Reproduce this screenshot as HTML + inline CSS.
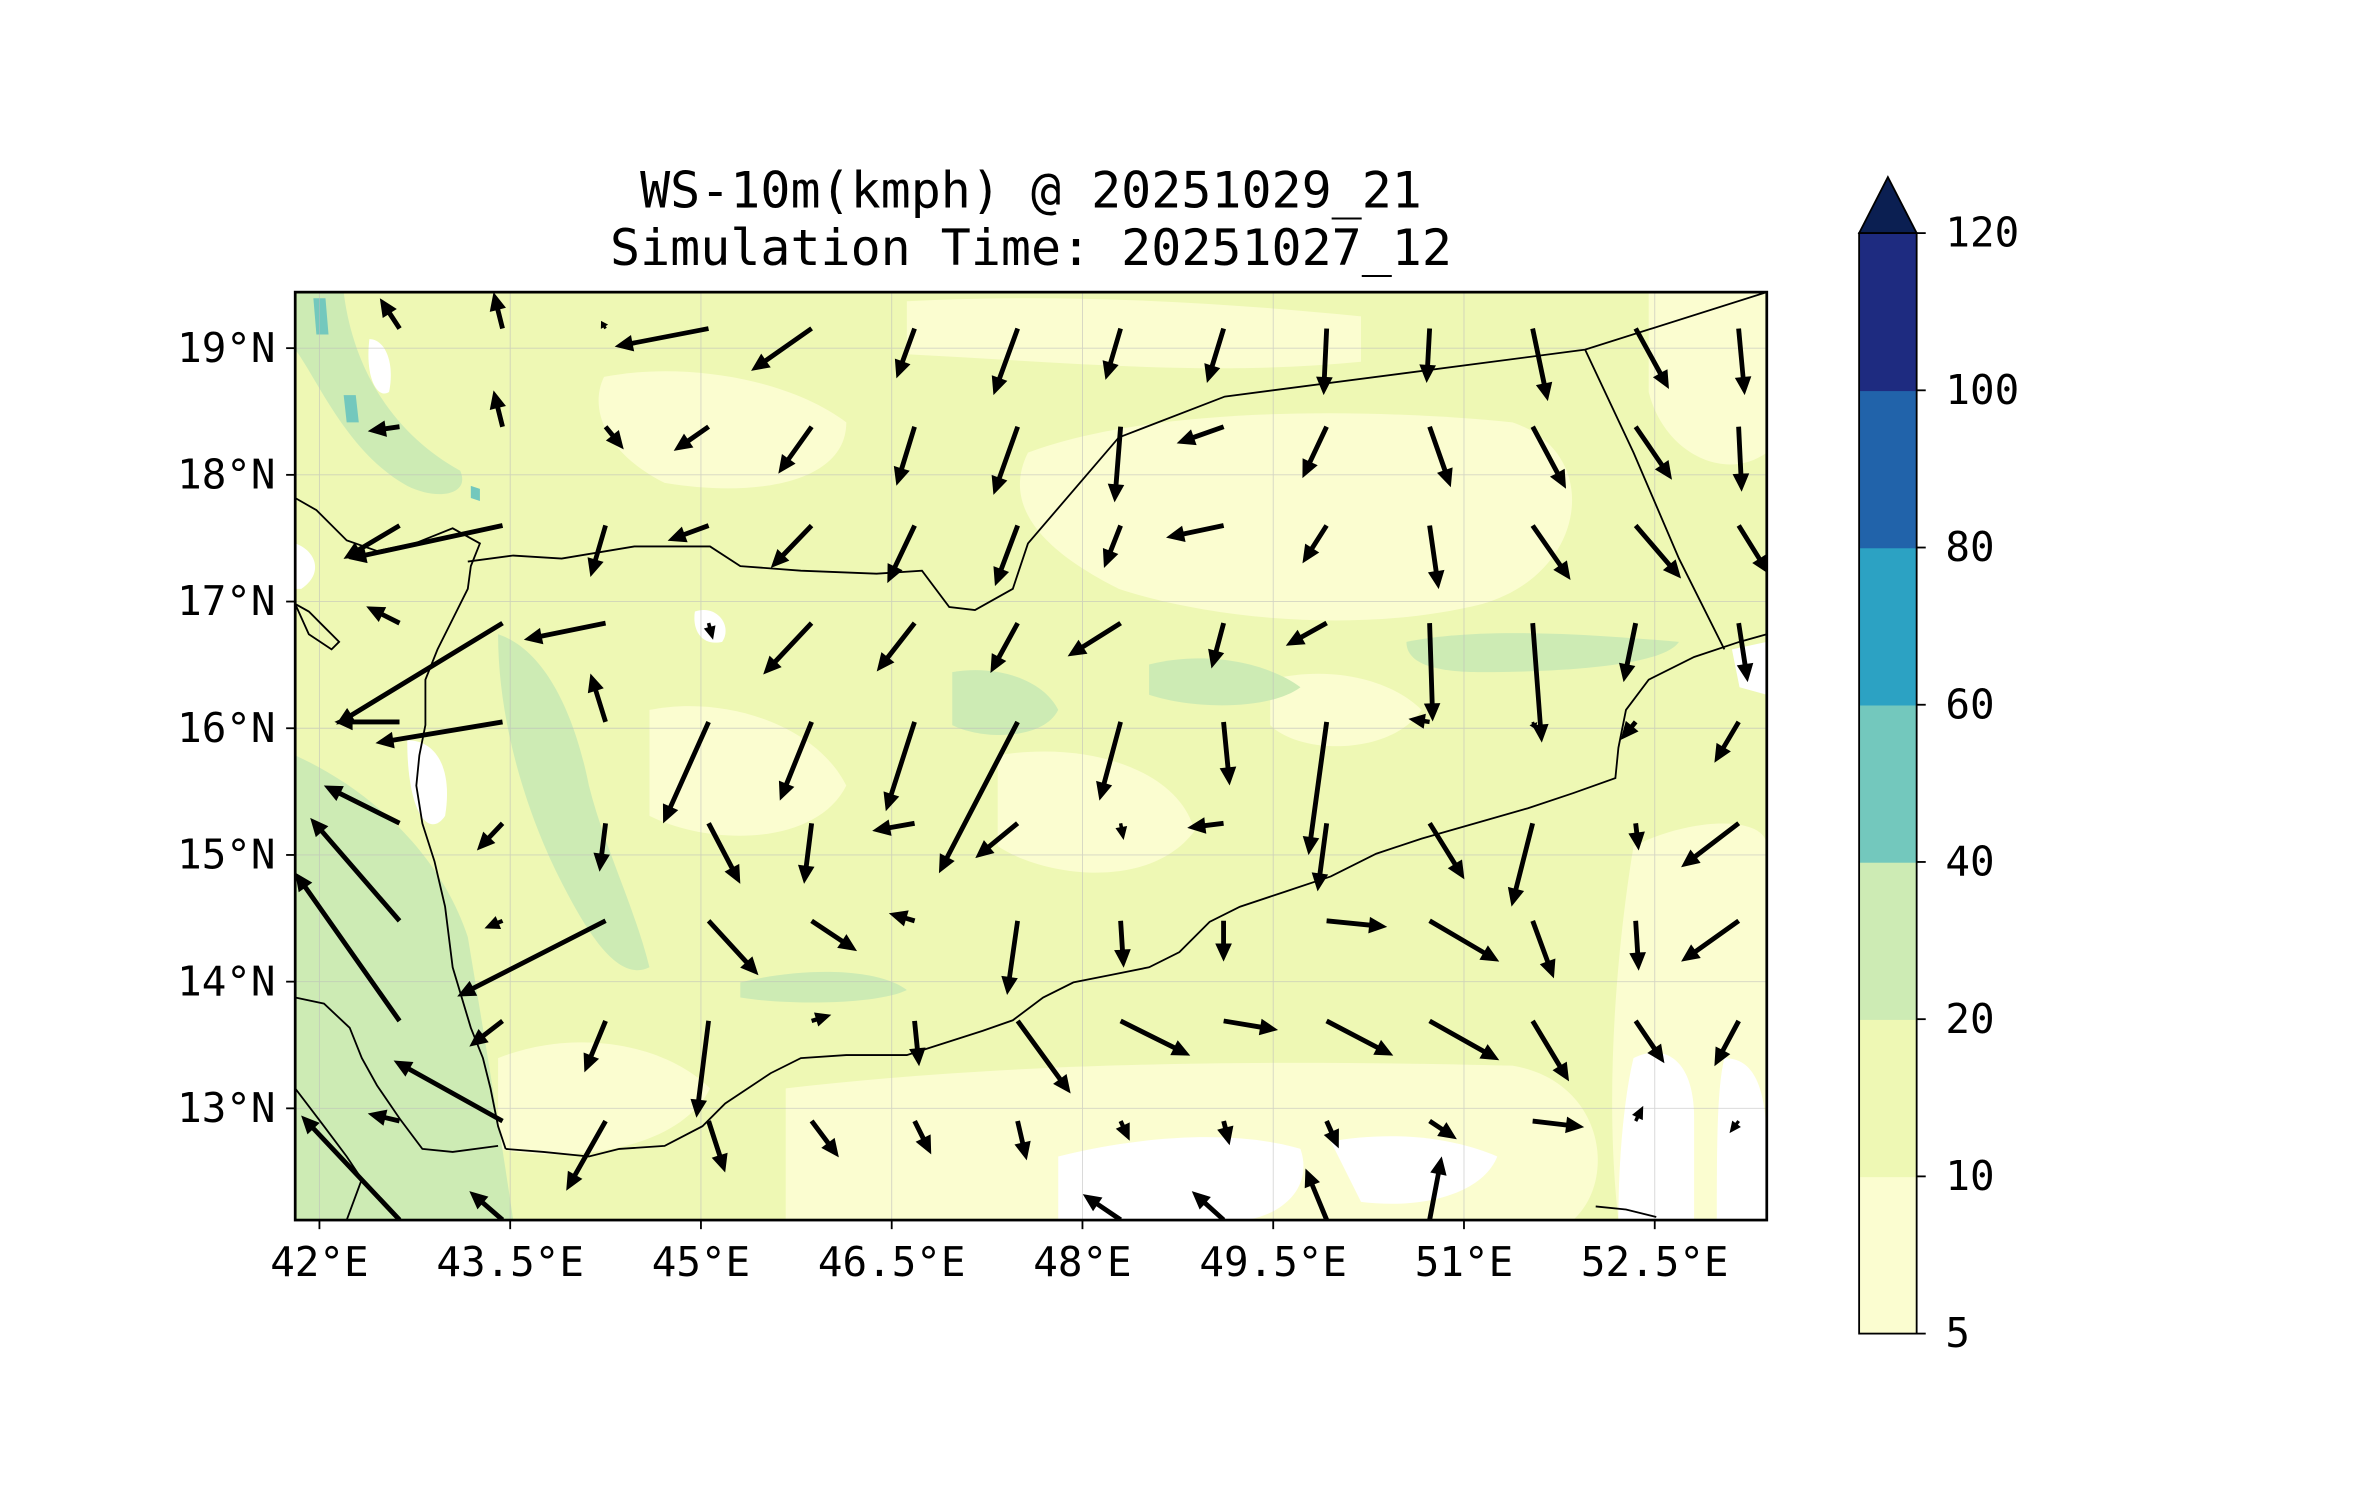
<!DOCTYPE html>
<html><head><meta charset="utf-8"><style>
html,body{margin:0;padding:0;background:#fff;}
svg{display:block;font-family:"DejaVu Sans Mono","Liberation Mono",monospace;}
</style></head><body>
<svg id="chart" width="2371" height="1500" viewBox="0 0 1552 982" preserveAspectRatio="none" xmlns="http://www.w3.org/2000/svg">
<defs><clipPath id="mapclip"><rect x="196" y="194" width="972" height="613"/></clipPath></defs>
<g transform="translate(-1,-1) scale(0.991)">
<g font-size="33" text-anchor="middle" fill="#000">
<text x="682" y="138">WS-10m(kmph) @ 20251029_21</text>
<text x="682" y="176">Simulation Time: 20251027_12</text>
</g>
<g id="map" clip-path="url(#mapclip)">
<rect x="196" y="194" width="972" height="613" fill="#eef8b4"/>
<g fill="#fbfdd0">
<path d="M680,300 C760,270 900,270 1000,280 C1060,300 1050,380 980,400 C900,420 800,410 740,390 C700,370 660,340 680,300Z"/>
<path d="M400,250 C450,240 520,250 560,280 C560,320 500,330 440,320 C400,300 390,270 400,250Z"/>
<path d="M600,200 C700,195 800,200 900,210 L900,240 C800,250 700,240 600,235Z"/>
<path d="M430,470 C480,460 540,480 560,520 C540,560 470,560 430,540Z"/>
<path d="M660,500 C720,490 780,510 790,550 C760,590 690,580 660,560Z"/>
<path d="M330,700 C380,680 440,690 470,720 C450,760 380,770 330,760Z"/>
<path d="M520,720 C650,705 800,700 1000,705 C1060,715 1070,780 1040,807 L520,807Z"/>
<path d="M1080,560 C1120,540 1168,540 1168,560 L1168,807 L1070,807 C1060,720 1070,620 1080,560Z"/>
<path d="M1090,190 L1168,190 L1168,300 C1140,320 1100,300 1090,260Z"/>
<path d="M840,450 C880,440 920,450 940,470 C920,500 860,500 840,480Z"/>
</g>
<g fill="#cdebb4">
<path d="M196,500 C240,520 290,560 310,620 C320,680 330,740 340,807 L196,807Z"/>
<path d="M330,420 C360,430 380,470 390,520 C400,560 420,600 430,640 C410,650 390,620 370,580 C350,540 330,480 330,420Z"/>
<path d="M630,445 C660,440 690,450 700,470 C690,490 650,490 630,480Z"/>
<path d="M930,425 C980,415 1050,420 1110,425 C1100,440 1040,445 980,445 C950,445 930,440 930,425Z"/>
<path d="M196,194 L228,194 C235,250 265,290 305,312 C312,328 290,332 270,322 C230,300 210,250 196,232Z"/>
<path d="M760,440 C800,430 840,440 860,455 C840,470 790,470 760,460Z"/>
<path d="M490,650 C530,640 580,640 600,655 C580,665 520,665 490,660Z"/>
</g>
<g fill="#73c8bd">
<path d="M208,198 L216,198 L218,222 L210,222Z"/>
<path d="M228,262 L236,262 L238,280 L230,280Z"/>
<path d="M312,322 L318,324 L318,332 L312,330Z"/>
</g>
<g fill="#ffffff">
<path d="M245,225 C255,225 262,240 258,260 C250,265 242,250 245,225Z"/>
<path d="M270,490 C290,490 300,510 295,540 C285,555 270,540 270,490Z"/>
<path d="M460,405 C475,400 485,415 478,425 C465,428 458,418 460,405Z"/>
<path d="M700,765 C760,750 820,748 860,760 C870,790 840,807 820,807 L700,807Z"/>
<path d="M880,755 C920,748 960,752 990,765 C980,790 940,800 900,795Z"/>
<path d="M1080,700 C1100,690 1120,700 1120,740 L1120,807 L1070,807 C1070,760 1075,720 1080,700Z"/>
<path d="M1140,700 C1160,700 1168,720 1168,760 L1168,807 L1135,807 C1135,760 1135,720 1140,700Z"/>
<path d="M1145,430 L1168,425 L1168,460 L1150,455Z"/>
<path d="M196,360 C210,365 215,380 200,390 L196,390Z"/>
</g>
<g stroke="#bbb" stroke-width="0.6" opacity="0.6" id="gridg"></g>
<g fill="none" stroke="#000" stroke-width="1.2">
<polyline points="196,330 210,338 230,358 250,365 275,360 300,350 318,360 312,375 310,390 300,410 290,430 282,450 282,480 278,500 276,520 280,545 288,570 295,600 300,640 312,680 320,700 325,720 330,745 335,760"/>
<polyline points="335,760 360,762 390,765 410,760 440,758 465,745 480,730 510,710 530,700 560,698 600,698 625,690 650,682 670,675 690,660 710,650 735,645 760,640 780,630 800,610 820,600 850,590 880,580 910,565 940,555 975,545 1010,535 1040,525 1068,515 1070,495 1075,470 1090,450 1120,435 1150,425 1168,420"/>
<polyline points="310,372 340,368 372,370 420,362 470,362 490,375 530,378 580,380 610,378 628,402 645,404 670,390 680,360 740,290 810,263 1048,232 1168,194"/>
<polyline points="1048,232 1080,300 1110,370 1140,430"/>
<polyline points="196,660 215,664 232,680 240,700 250,718 265,740 280,760 300,762 330,758"/>
<polyline points="196,720 215,745 230,765 240,780 230,807"/>
<path d="M196,400 L205,405 L215,415 L225,425 L220,430 L205,420Z"/>
<path d="M1055,798 L1075,800 L1095,805"/>
</g>
<g id="arrows" fill="#000"></g>
</g>
<rect x="196" y="194" width="972" height="613" fill="none" stroke="#000" stroke-width="1.8"/>
<g id="ticks" font-size="27" fill="#000"></g>
<g id="cbar"></g>
</g>
</svg>
<script>
// Grid in lon/lat
const lons = [42.63,43.44,44.25,45.06,45.87,46.68,47.49,48.30,49.11,49.92,50.73,51.54,52.35,53.16];
const lats = [19.155,18.38,17.60,16.83,16.05,15.25,14.48,13.69,12.90,12.12];
// Wind components (east u, north v) in display units, rows north->south
const windU = [
[-13,-6,-3,-62,-40,-12,-16,-10,-11,-2,-2,10,22,4],
[-21,-6,12,-23,-22,-12,-16,-4,-31,-16,14,22,24,2],
[-37,-102,-10,-27,-27,-18,-15,-11,-38,-16,6,25,30,20],
[-22,-110,-54,3,-32,-25,-18,-35,-8,-27,2,6,-8,6],
[-43,-84,-10,-30,-21,-19,-52,-14,4,-12,-14,2,-10,-16],
[-50,-17,-4,21,-5,-28,-28,2,-24,-6,23,-14,2,-38],
[-59,-12,-98,33,30,-17,-7,2,0,40,46,14,2,-38],
[-69,-22,-14,-8,13,3,35,46,36,44,46,24,19,-16],
[-21,-72,-26,11,18,11,6,6,4,8,18,34,5,-6],
[-65,-22,0,0,0,0,0,-25,-21,-14,8,0,0,0]
];
const windV = [
[20,24,5,-12,-28,-33,-44,-34,-36,-44,-36,-48,-40,-44],
[-3,24,-15,-16,-31,-39,-45,-50,-11,-34,-40,-41,-35,-43],
[-22,-22,-34,-10,-28,-38,-40,-28,-8,-25,-42,-36,-35,-32],
[11,-67,-11,-11,-34,-32,-33,-22,-30,-15,-65,-79,-39,-39],
[0,-14,32,-67,-52,-59,-100,-52,-42,-88,2,-5,-12,-27],
[25,-18,-32,-40,-40,-5,-23,-11,-3,-45,-37,-55,-18,-29],
[68,-5,-50,-36,-20,5,-49,-31,-27,-4,-27,-38,-33,-27],
[98,-17,-34,-64,4,-30,-48,-23,-6,-23,-26,-40,-28,-30],
[5,40,-46,-34,-24,-22,-26,-13,-16,-18,-12,-4,10,-8],
[69,19,0,0,0,0,0,17,19,34,42,0,0,0]
];
const xTicks = [42,43.5,45,46.5,48,49.5,51,52.5];
const xTickLabels = ["42°E","43.5°E","45°E","46.5°E","48°E","49.5°E","51°E","52.5°E"];
const yTicks = [19,18,17,16,15,14,13];
const yTickLabels = ["19°N","18°N","17°N","16°N","15°N","14°N","13°N"];
const cbarLevels = [5,10,20,40,60,80,100,120];
const cbarColors = ["#fbfdd0","#eef8b4","#cdebb4","#73c8bd","#2ca2c3","#2163aa","#1e2b80"];

const NS="http://www.w3.org/2000/svg";
function xScale(lon){return 212+(lon-42)*84;}
function yScale(lat){return 231-(lat-19)*83.7;}
function mk(tag,attrs,parent){const e=document.createElementNS(NS,tag);for(const k in attrs)e.setAttribute(k,attrs[k]);parent.appendChild(e);return e;}

const gridg=document.getElementById('gridg');
xTicks.forEach(t=>{const l=mk('line',{x1:xScale(t),x2:xScale(t),y1:194,y2:807},gridg);

});
yTicks.forEach(t=>{const l=mk('line',{x1:196,x2:1168,y1:yScale(t),y2:yScale(t)},gridg);

});

const arrows=document.getElementById('arrows');
for(let r=0;r<lats.length;r++){for(let c=0;c<lons.length;c++){
  const u=windU[r][c], v=windV[r][c];
  const L=Math.hypot(u,v); if(L<1) continue;
  const x0=xScale(lons[c]), y0=yScale(lats[r]);
  const ux=u/L, uy=-v/L, px=-uy, py=ux;
  let hl=12, hw=5.5, sw=1.6;
  if(L<hl*1.3){const s=L/(hl*1.3); hl*=s; hw*=Math.max(s,0.5); sw*=Math.max(s,0.6);}
  const bx=x0+ux*(L-hl), by=y0+uy*(L-hl), tx=x0+ux*L, ty=y0+uy*L;
  const pts=[[x0+px*sw,y0+py*sw],[bx+px*sw,by+py*sw],[bx+px*hw,by+py*hw],[tx,ty],[bx-px*hw,by-py*hw],[bx-px*sw,by-py*sw],[x0-px*sw,y0-py*sw]];
  const p=mk('polygon',{points:pts.map(q=>q[0].toFixed(1)+','+q[1].toFixed(1)).join(' ')},arrows);
  
  
}}

const ticks=document.getElementById('ticks');
xTicks.forEach((t,i)=>{const x=xScale(t);
  const l=mk('line',{x1:x,x2:x,y1:807,y2:813,stroke:'#000','stroke-width':1.2},ticks);
  
  
  const tx=mk('text',{x:x,y:844,'text-anchor':'middle'},ticks);tx.textContent=xTickLabels[i];
  
  });
yTicks.forEach((t,i)=>{const y=yScale(t);
  const l=mk('line',{x1:190,x2:196,y1:y,y2:y,stroke:'#000','stroke-width':1.2},ticks);
  
  
  const tx=mk('text',{x:183,y:y+9,'text-anchor':'end'},ticks);tx.textContent=yTickLabels[i];
  
  });

const cbar=document.getElementById('cbar');
function cY(i){return 882-i*(882-155)/(cbarLevels.length-1);}
for(let i=0;i<cbarColors.length;i++){
  const r=mk('rect',{x:1229,y:cY(i+1),width:38,height:cY(i)-cY(i+1)+0.5,fill:cbarColors[i]},cbar);
  
  }
const tri=mk('polygon',{points:'1229,155 1248,118 1267,155',fill:'#0b1f52',stroke:'#000','stroke-width':1.2},cbar);


const fr=mk('rect',{x:1229,y:155,width:38,height:727,fill:'none',stroke:'#000','stroke-width':1.2},cbar);


cbarLevels.forEach((lv,i)=>{const y=cY(i);
  const l=mk('line',{x1:1267,x2:1273,y1:y,y2:y,stroke:'#000','stroke-width':1.2},cbar);
  
  
  const t=mk('text',{x:1286,y:y+9,'font-size':27},cbar);t.textContent=lv;
  
  });
</script>
</body></html>
